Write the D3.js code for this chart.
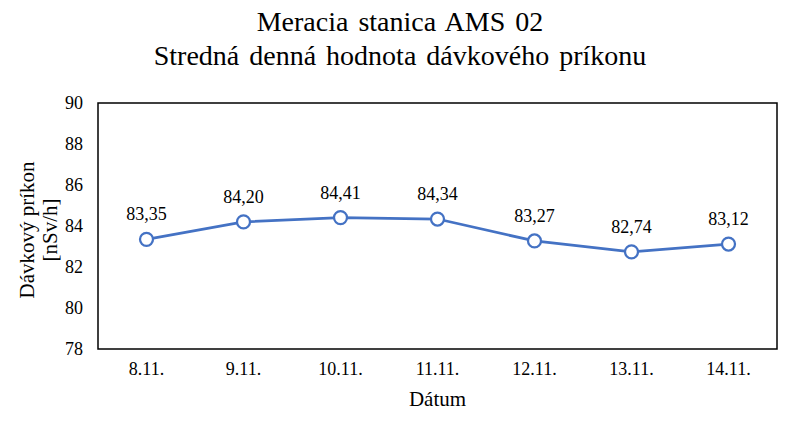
<!DOCTYPE html>
<html><head><meta charset="utf-8">
<script src="https://cdn.jsdelivr.net/npm/d3@7/dist/d3.min.js"></script>
<style>body{margin:0;background:#fff}svg{display:block}text{font-family:"Liberation Serif","Times New Roman",serif !important;fill:#000}</style>
</head><body><svg id="c" width="800" height="421"></svg>
<script>
const categories = ["8.11.","9.11.","10.11.","11.11.","12.11.","13.11.","14.11."];
const values = [83.35, 84.20, 84.41, 84.34, 83.27, 82.74, 83.12];
const yTicks = [78, 80, 82, 84, 86, 88, 90];
const titleLines = ["Meracia stanica AMS 02", "Stredná denná hodnota dávkového príkonu"];
const yTitle = ["Dávkový príkon", "[nSv/h]"];
const xTitle = "Dátum";

const svg = d3.select("#c");
const m = {l: 98, r: 777, t: 103, b: 349};
const x = d3.scaleBand().domain(categories).range([m.l, m.r]);
const y = d3.scaleLinear().domain([78, 90]).range([m.b, m.t]);
const fmt = v => d3.format(".2f")(v).replace(".", ",");

svg.selectAll("text.title").data(titleLines).join("text")
  .attr("x", 400).attr("y", (d,i) => 31 + i*34).attr("text-anchor","middle")
  .style("font-size","28px").style("word-spacing","3px").text(d => d);

svg.append("rect").attr("x", m.l).attr("y", m.t).attr("width", m.r-m.l).attr("height", m.b-m.t)
  .attr("fill","none").attr("stroke","#000").attr("stroke-width",1.5);

const ya = svg.append("g").attr("transform",`translate(${m.l},0)`)
  .call(d3.axisLeft(y).tickValues(yTicks).tickSize(0).tickPadding(15).tickFormat(d3.format("d")))
  .attr("font-family","Liberation Serif");
ya.select(".domain").remove();
ya.selectAll("text").style("font-size","18px");

const xa = svg.append("g").attr("transform",`translate(0,${m.b})`)
  .call(d3.axisBottom(x).tickSize(0).tickPadding(13))
  .attr("font-family","Liberation Serif");
xa.select(".domain").remove();
xa.selectAll("text").style("font-size","18px");

svg.append("text").attr("x", (m.l+m.r)/2).attr("y", 406).attr("text-anchor","middle")
  .style("font-size","21px").text(xTitle);

svg.selectAll("text.yt").data(yTitle).join("text")
  .attr("transform",(d,i) => `translate(${34 + i*23},${230}) rotate(-90)`)
  .attr("text-anchor","middle").style("font-size","21px").text(d => d);

const cx = d => x(d) + x.bandwidth()/2;
const line = d3.line().x((d,i) => cx(categories[i])).y(d => y(d));
svg.append("path").datum(values).attr("d", line).attr("fill","none")
  .attr("stroke","#4472C4").attr("stroke-width",2.75);

svg.selectAll("circle.pt").data(values).join("circle")
  .attr("cx",(d,i) => cx(categories[i])).attr("cy", d => y(d)).attr("r",6.5)
  .attr("fill","#fff").attr("stroke","#4472C4").attr("stroke-width",2.25);

svg.selectAll("text.lbl").data(values).join("text")
  .attr("x",(d,i) => cx(categories[i])).attr("y", d => y(d) - 19)
  .attr("text-anchor","middle").style("font-size","18px").text(d => fmt(d));
</script></body></html>
